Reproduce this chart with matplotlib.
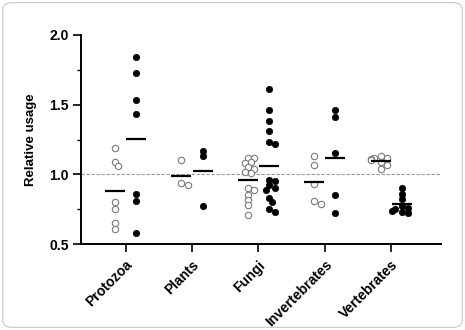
import matplotlib
matplotlib.use("Agg")
import matplotlib.pyplot as plt
import numpy as np
from matplotlib.patches import FancyBboxPatch

plt.rcParams["font.family"] = ["Liberation Sans", "DejaVu Sans"]
plt.rcParams["font.weight"] = "bold"

categories = ["Protozoa", "Plants", "Fungi", "Invertebrates", "Vertebrates"]

# open circles (first series) per category
open_vals = [
    [1.19, 1.09, 1.06, 0.80, 0.75, 0.65, 0.61],
    [1.10, 0.94, 0.92],
    [1.12, 1.12, 1.09, 1.08, 1.05, 1.04, 1.02, 1.01,
     0.90, 0.89, 0.85, 0.815, 0.78, 0.71],
    [1.13, 1.07, 0.93, 0.81, 0.79],
    [1.13, 1.12, 1.12, 1.11, 1.10, 1.09, 1.07, 1.04],
]
# filled circles (second series) per category
filled_vals = [
    [1.84, 1.73, 1.53, 1.43, 0.86, 0.81, 0.58],
    [1.17, 1.13, 0.77],
    [1.61, 1.46, 1.38, 1.31, 1.23, 1.22, 0.96, 0.95, 0.92,
     0.90, 0.89, 0.83, 0.80, 0.75, 0.73],
    [1.46, 1.41, 1.15, 0.85, 0.72],
    [0.905, 0.86, 0.82, 0.77, 0.76, 0.75, 0.74, 0.73, 0.72],
]

W, H = 465, 330
fig = plt.figure(figsize=(W / 100, H / 100), dpi=100)
ax = fig.add_axes([81 / W, 1 - 244 / H, (441 - 81) / W, (244 - 35) / H])
ax.set_xlim(-0.67, 4.75)
ax.set_ylim(0.5, 2.0)

offset = 0.16
msize = 4.6  # points


def swarm(x0, vals):
    # simple beeswarm in pixel space, overlap allowed a little
    pts = ax.transData.transform(np.column_stack([np.full(len(vals), x0), vals]))
    d = msize * 100 / 72
    placed = []
    order = np.argsort(-np.asarray(vals))
    res = np.zeros(len(vals))
    for i in order:
        px, py = pts[i]
        for k in [0, 0.5, -0.5, 1, -1, 1.5, -1.5]:
            cx = px + k * d
            if all((cx - qx) ** 2 + (py - qy) ** 2 >= (0.75 * d) ** 2 for qx, qy in placed):
                break
        placed.append((cx, py))
        res[i] = cx
    back = ax.transData.inverted().transform(np.column_stack([res, pts[:, 1]]))
    return back[:, 0]


ax.axhline(1.0, color="#9a9a9a", lw=0.8, ls=(0, (3, 1.5)), zorder=1)

for i, cat in enumerate(categories):
    ov = np.array(open_vals[i])
    fv = np.array(filled_vals[i])
    xo = swarm(i - offset, ov)
    xf = swarm(i + offset, fv)
    ax.scatter(xo, ov, s=msize ** 2, facecolor="white", edgecolor="#7a7a7a",
               linewidth=0.8, zorder=3)
    ax.scatter(xf, fv, s=msize ** 2, facecolor="black", edgecolor="black",
               linewidth=0.5, zorder=3)
    ax.hlines(ov.mean(), i - offset - 0.15, i - offset + 0.15, color="black",
              lw=1.6, zorder=4)
    ax.hlines(fv.mean(), i + offset - 0.15, i + offset + 0.15, color="black",
              lw=1.6, zorder=4)

for side in ["top", "right"]:
    ax.spines[side].set_visible(False)
for side in ["left", "bottom"]:
    ax.spines[side].set_linewidth(1.4)

ax.set_yticks([0.5, 1.0, 1.5, 2.0])
ax.set_yticklabels(["0.5", "1.0", "1.5", "2.0"], fontsize=10, fontweight="bold")
ax.set_yticks([0.75, 1.25, 1.75], minor=True)
ax.tick_params(axis="y", which="major", length=6, width=1.2, pad=3)
ax.tick_params(axis="y", which="minor", length=3, width=1.0)
ax.set_xticks(range(len(categories)))
ax.set_xticklabels(categories, rotation=45, ha="right", rotation_mode="anchor",
                   fontsize=10, fontweight="bold")
ax.tick_params(axis="x", length=6, width=1.2, pad=4)
ax.set_ylabel("Relative usage", fontsize=9.5, fontweight="bold", labelpad=9)

frame = FancyBboxPatch((0.006, 0.008), 0.988, 0.984, boxstyle="round,pad=0,rounding_size=0.02",
                       transform=fig.transFigure, facecolor="none",
                       edgecolor="#c8c8c8", lw=0.8)
fig.patches.append(frame)

fig.savefig("out.png", dpi=100)
